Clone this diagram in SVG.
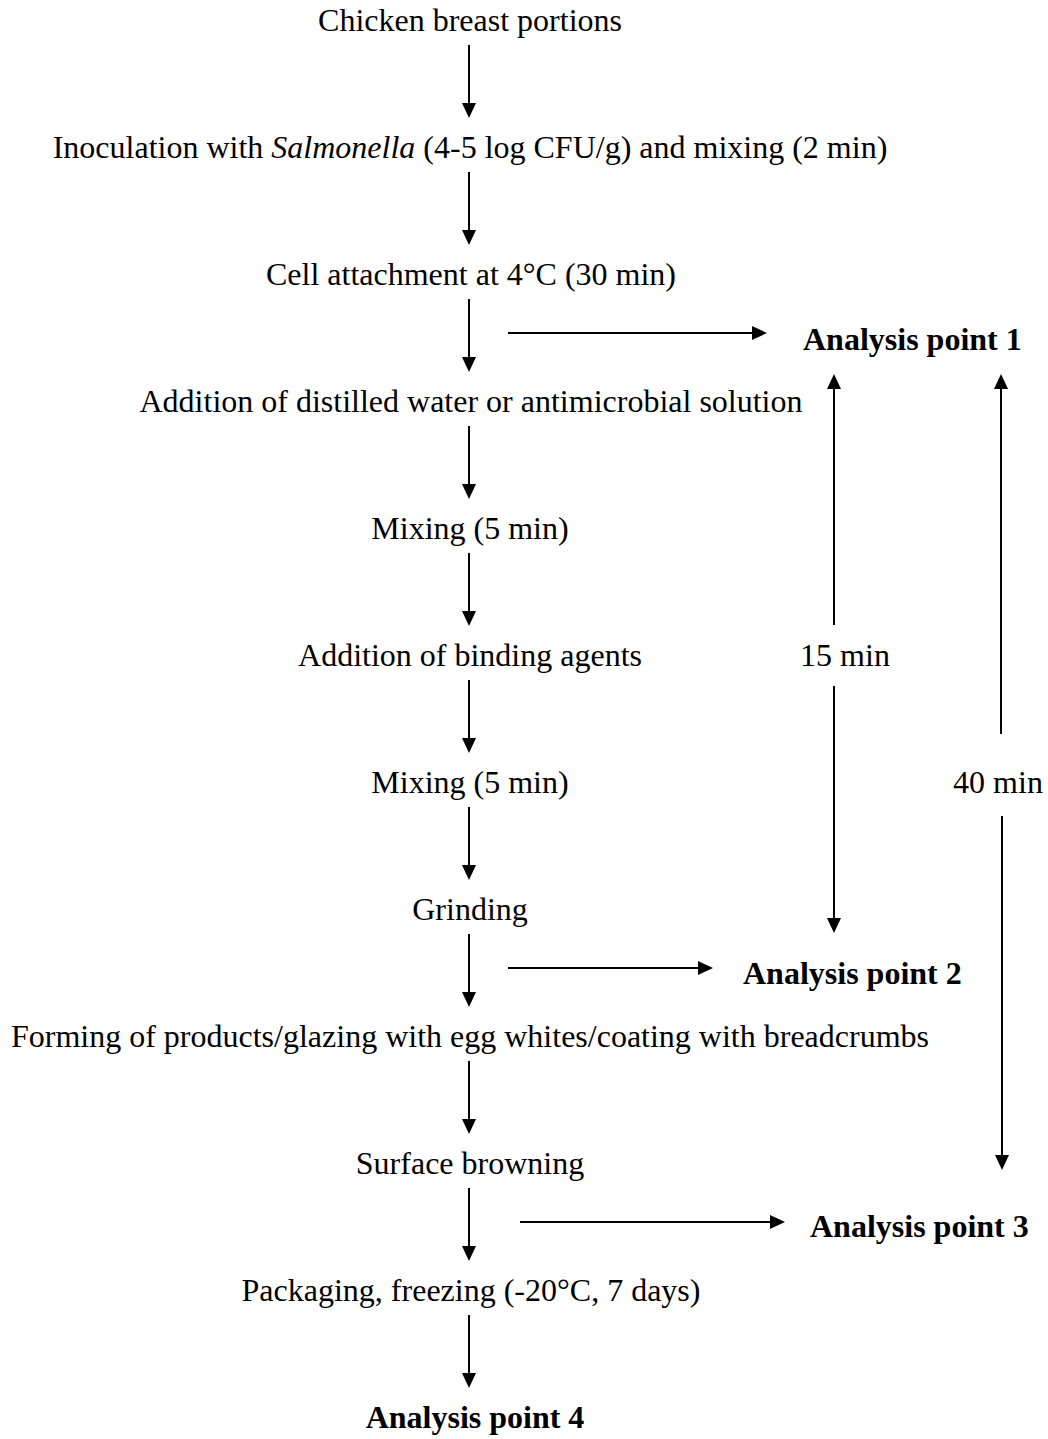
<svg xmlns="http://www.w3.org/2000/svg" width="1048" height="1439" viewBox="0 0 1048 1439">
<style>
text{font-family:"Liberation Serif","Times New Roman",serif;font-size:32px;fill:#000}
.c{text-anchor:middle}
.b{font-weight:bold}
.ln{stroke:#000;stroke-width:2;fill:none;marker-end:url(#ah)}
</style>
<defs>
<marker id="ah" markerUnits="userSpaceOnUse" markerWidth="16" markerHeight="14" refX="0" refY="7" orient="auto" overflow="visible">
<path d="M0,0 L15,7 L0,14 z" fill="#000"/>
</marker>
</defs>
<rect width="1048" height="1439" fill="#fff"/>
<g id="n1"><text class="c" x="470" y="31">Chicken breast portions</text></g>
<g id="n2"><text class="c" x="470" y="158">Inoculation with <tspan font-style="italic">Salmonella</tspan> (4-5 log CFU/g) and mixing (2 min)</text></g>
<g id="n3"><text class="c" x="471" y="285">Cell attachment at 4°C (30 min)</text></g>
<g id="ap1"><text class="b" x="803" y="350">Analysis point 1</text></g>
<g id="n4"><text class="c" x="471" y="412">Addition of distilled water or antimicrobial solution</text></g>
<g id="n5"><text class="c" x="470" y="539">Mixing (5 min)</text></g>
<g id="n6"><text class="c" x="470" y="666">Addition of binding agents</text></g>
<g id="t15"><text class="c" x="845" y="666">15 min</text></g>
<g id="n7"><text class="c" x="470" y="793">Mixing (5 min)</text></g>
<g id="t40"><text class="c" x="998" y="793">40 min</text></g>
<g id="n8"><text class="c" x="470" y="920">Grinding</text></g>
<g id="ap2"><text class="b" x="743" y="984">Analysis point 2</text></g>
<g id="n9"><text class="c" x="470" y="1047">Forming of products/glazing with egg whites/coating with breadcrumbs</text></g>
<g id="n10"><text class="c" x="470" y="1174">Surface browning</text></g>
<g id="ap3"><text class="b" x="810" y="1237">Analysis point 3</text></g>
<g id="n11"><text class="c" x="471" y="1301">Packaging, freezing (-20°C, 7 days)</text></g>
<g id="ap4"><text class="c b" x="475" y="1428">Analysis point 4</text></g>
<g id="connectors">
<line class="ln" x1="469" y1="45" x2="469" y2="103"/>
<line class="ln" x1="469" y1="172" x2="469" y2="230"/>
<line class="ln" x1="469" y1="299" x2="469" y2="357"/>
<line class="ln" x1="469" y1="426" x2="469" y2="484"/>
<line class="ln" x1="469" y1="553" x2="469" y2="611"/>
<line class="ln" x1="469" y1="680" x2="469" y2="738"/>
<line class="ln" x1="469" y1="807" x2="469" y2="865"/>
<line class="ln" x1="469" y1="934" x2="469" y2="992"/>
<line class="ln" x1="469" y1="1061" x2="469" y2="1119"/>
<line class="ln" x1="469" y1="1188" x2="469" y2="1246"/>
<line class="ln" x1="469" y1="1315" x2="469" y2="1373"/>
<line class="ln" x1="508" y1="333" x2="752" y2="333"/>
<line class="ln" x1="508" y1="968" x2="698" y2="968"/>
<line class="ln" x1="520" y1="1222" x2="770" y2="1222"/>
<line class="ln" x1="834" y1="625" x2="834" y2="389"/>
<line class="ln" x1="834" y1="686" x2="834" y2="918"/>
<line class="ln" x1="1001" y1="734" x2="1001" y2="389"/>
<line class="ln" x1="1002" y1="816" x2="1002" y2="1155"/>
</g>
</svg>
